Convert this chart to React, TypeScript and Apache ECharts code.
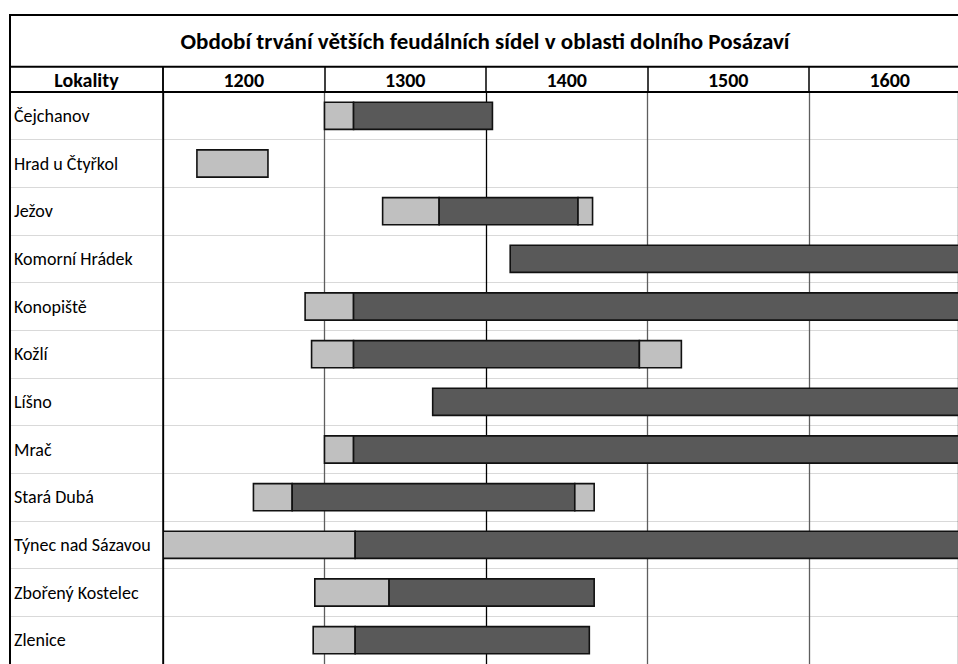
import React, { useEffect, useRef } from "react";
import * as echarts from "echarts";

const chartTitle = "Období trvání větších feudálních sídel v oblasti dolního Posázaví";
const headerLabel = "Lokality";
const categories = [
  "Čejchanov",
  "Hrad u Čtyřkol",
  "Ježov",
  "Komorní Hrádek",
  "Konopiště",
  "Kožlí",
  "Líšno",
  "Mrač",
  "Stará Dubá",
  "Týnec nad Sázavou",
  "Zbořený Kostelec",
  "Zlenice",
];
const centuryLabels = [1200, 1300, 1400, 1500, 1600];
// boundaries of the successive phases of each seat (years)
const rowBoundaries: number[][] = [
  [1300, 1318, 1404],
  [1221, 1265],
  [1336, 1371, 1457, 1466],
  [1415, 1700],
  [1288, 1318, 1700],
  [1292, 1318, 1495, 1521],
  [1367, 1700],
  [1300, 1318, 1700],
  [1256, 1280, 1455, 1467],
  [1200, 1319, 1700],
  [1294, 1340, 1467],
  [1293, 1319, 1464],
];
// phase kinds: 0 = light, 1 = dark
const rowPhases: number[][] = [
  [0, 1],
  [0],
  [0, 1, 0],
  [1],
  [0, 1],
  [0, 1, 0],
  [1],
  [0, 1],
  [0, 1, 0],
  [0, 1],
  [0, 1],
  [0, 1],
];

const FONT = "Carlito, Lato, 'Open Sans', sans-serif";
const LIGHT = "#c0c0c0";
const DARK = "#595959";

export default function App() {
  const ref = useRef<HTMLDivElement>(null);
  useEffect(() => {
    if (!ref.current) return;
    const chart = echarts.init(ref.current, null, { renderer: "svg" });
    const data: number[][] = [];
    rowBoundaries.forEach((b, row) => {
      rowPhases[row].forEach((k, i) => {
        data.push([row, b[i], b[i + 1], k]);
      });
    });
    const xMin = 1200;
    const xMax = 1692.3;
    const W = 958;
    const H = 664;
    const gridTop = 92;
    const rowH = 48.4;
    const left = 163;
    const frame = 10;
    const line = (x1: number, y1: number, x2: number, y2: number, w: number) => ({
      type: "line",
      shape: { x1, y1, x2, y2 },
      style: { stroke: "#000", lineWidth: w },
      z: 100,
    });
    chart.setOption({
      animation: false,
      backgroundColor: "#fff",
      grid: { left, top: gridTop, width: W - left, height: rowH * categories.length },
      xAxis: [
        {
          type: "value",
          min: xMin,
          max: xMax,
          interval: 100,
          axisLabel: { show: false },
          axisTick: { show: false },
          axisLine: { show: false },
          splitLine: {
            show: true,
            lineStyle: { color: ["#000", "#5e5e5e", "#000", "#5e5e5e", "#5e5e5e"], width: 1.3 },
          },
        },
        {
          type: "value",
          position: "top",
          min: xMin,
          max: xMax,
          axisLine: { show: true, lineStyle: { color: "#000", width: 2 } },
          axisTick: {
            show: true,
            customValues: centuryLabels,
            length: gridTop - 66.7,
            lineStyle: { color: "#000", width: 1.5 },
          },
          axisLabel: {
            show: true,
            customValues: centuryLabels.map((v) => v + 50),
            formatter: (v: number) => String(v - 50),
            fontFamily: FONT,
            fontWeight: "bold",
            fontSize: 20,
            color: "#000",
            margin: 12,
            verticalAlign: "middle",
          },
          splitLine: { show: false },
        },
      ],
      yAxis: {
        type: "category",
        data: categories,
        inverse: true,
        axisLine: { show: false },
        axisTick: { show: true, length: left - frame, lineStyle: { color: "#d9d9d9" } },
        splitLine: { show: true, lineStyle: { color: "#d9d9d9" } },
        axisLabel: {
          align: "left",
          margin: left - 14,
          fontFamily: FONT,
          fontSize: 18,
          color: "#000",
        },
      },
      series: [
        {
          type: "custom",
          clip: true,
          encode: { x: [1, 2], y: 0 },
          data,
          renderItem: (params: any, api: any) => {
            const row = api.value(0);
            const p0 = api.coord([api.value(1), row]);
            const p1 = api.coord([api.value(2), row]);
            const h = api.size([0, 1])[1] * 0.57;
            return {
              type: "rect",
              shape: { x: p0[0], y: p0[1] - h / 2, width: p1[0] - p0[0], height: h },
              style: { fill: api.value(3) === 0 ? LIGHT : DARK, stroke: "#111", lineWidth: 1.6 },
            };
          },
        },
      ],
      graphic: [
        line(frame, 15, W, 15, 2),
        line(frame, 66.7, W, 66.7, 2),
        line(frame, gridTop, W, gridTop, 2),
        line(frame, 14, frame, H, 2),
        line(left, 66.7, left, H, 1.5),
        {
          type: "text",
          x: 485,
          y: 41,
          z: 100,
          style: {
            text: chartTitle,
            fill: "#000",
            font: `bold 23px ${FONT}`,
            textAlign: "center",
            textVerticalAlign: "middle",
          },
        },
        {
          type: "text",
          x: (frame + left) / 2,
          y: 80,
          z: 100,
          style: {
            text: headerLabel,
            fill: "#000",
            font: `bold 20px ${FONT}`,
            textAlign: "center",
            textVerticalAlign: "middle",
          },
        },
      ],
    });
    return () => chart.dispose();
  }, []);
  return (
    <div
      ref={ref}
      style={{ position: "absolute", left: 0, top: 0, width: 958, height: 664, overflow: "hidden", background: "#fff" }}
    />
  );
}
